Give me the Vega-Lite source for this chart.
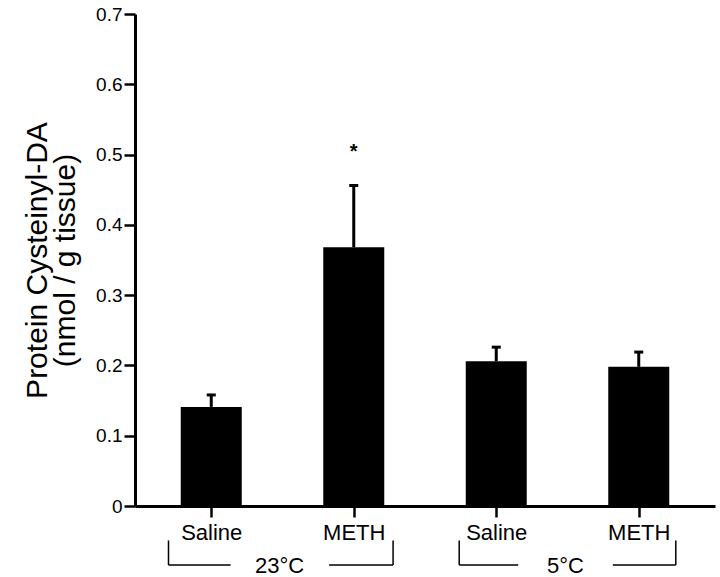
{
  "$schema": "https://vega.github.io/schema/vega-lite/v6.json",
  "width": 580,
  "height": 492,
  "autosize": {"type": "none"},
  "padding": {"left": 135, "top": 14, "right": 5, "bottom": 71},
  "background": "white",
  "config": {
    "font": "Liberation Sans",
    "view": {"stroke": null},
    "axis": {"grid": false, "domainColor": "black", "tickColor": "black", "labelColor": "black", "titleColor": "black"}
  },
  "datasets": {
    "bars": [
      {"pos": 1, "label": "Saline", "temp": "23°C", "mean": 0.141, "upper": 0.158},
      {"pos": 2, "label": "METH", "temp": "23°C", "mean": 0.368, "upper": 0.456},
      {"pos": 3, "label": "Saline", "temp": "5°C", "mean": 0.206, "upper": 0.226},
      {"pos": 4, "label": "METH", "temp": "5°C", "mean": 0.198, "upper": 0.219}
    ],
    "brackets": [
      {"x": 0.70, "x2": 0.70, "y": -0.049, "y2": -0.084},
      {"x": 0.70, "x2": 1.136, "y": -0.084, "y2": -0.084},
      {"x": 1.827, "x2": 2.276, "y": -0.084, "y2": -0.084},
      {"x": 2.276, "x2": 2.276, "y": -0.049, "y2": -0.084},
      {"x": 2.740, "x2": 2.740, "y": -0.049, "y2": -0.084},
      {"x": 2.740, "x2": 3.154, "y": -0.084, "y2": -0.084},
      {"x": 3.818, "x2": 4.260, "y": -0.084, "y2": -0.084},
      {"x": 4.260, "x2": 4.260, "y": -0.049, "y2": -0.084}
    ],
    "groups": [
      {"x": 1.48, "y": -0.0955, "text": "23°C"},
      {"x": 3.486, "y": -0.0955, "text": "5°C"}
    ],
    "marks": [
      {"x": 2, "y": 0.503, "text": "*"}
    ]
  },
  "layer": [
    {
      "data": {"name": "bars"},
      "mark": {"type": "bar", "color": "black", "width": 61},
      "encoding": {
        "x": {
          "field": "pos", "type": "quantitative",
          "scale": {"domain": [0.5, 4.5], "nice": false, "zero": false},
          "axis": {
            "values": [1, 2, 3, 4],
            "labelExpr": "datum.value == 1 || datum.value == 3 ? 'Saline' : 'METH'",
            "title": null,
            "domainWidth": 3,
            "tickWidth": 2.5,
            "tickSize": 11,
            "labelFontSize": 22,
            "labelPadding": 5,
            "labelFont": "Liberation Sans"
          }
        },
        "y": {
          "field": "mean", "type": "quantitative",
          "scale": {"domain": [0, 0.7], "nice": false},
          "axis": {
            "values": [0, 0.1, 0.2, 0.3, 0.4, 0.5, 0.6, 0.7],
            "labelExpr": "datum.value == 0 ? '0' : format(datum.value, '.1f')",
            "title": ["Protein Cysteinyl-DA", "(nmol / g tissue)"],
            "titleFontSize": 30,
            "titleFontWeight": "normal",
            "titleLineHeight": 28,
            "titlePadding": 15,
            "titleFont": "Liberation Sans",
            "domainWidth": 3,
            "tickWidth": 2.5,
            "tickSize": 11,
            "labelFontSize": 19,
            "labelPadding": 2,
            "labelFont": "Liberation Sans"
          }
        }
      }
    },
    {
      "data": {"name": "bars"},
      "mark": {"type": "rule", "color": "black", "strokeWidth": 3},
      "encoding": {
        "x": {"field": "pos", "type": "quantitative"},
        "y": {"field": "mean", "type": "quantitative"},
        "y2": {"field": "upper"}
      }
    },
    {
      "data": {"name": "bars"},
      "mark": {"type": "tick", "color": "black", "orient": "horizontal", "size": 9, "thickness": 3, "opacity": 1},
      "encoding": {
        "x": {"field": "pos", "type": "quantitative"},
        "y": {"field": "upper", "type": "quantitative"}
      }
    },
    {
      "data": {"name": "brackets"},
      "mark": {"type": "rule", "color": "black", "strokeWidth": 1.5},
      "encoding": {
        "x": {"field": "x", "type": "quantitative"},
        "x2": {"field": "x2"},
        "y": {"field": "y", "type": "quantitative"},
        "y2": {"field": "y2"}
      }
    },
    {
      "data": {"name": "groups"},
      "mark": {"type": "text", "fontSize": 22, "align": "center", "baseline": "alphabetic", "color": "black"},
      "encoding": {
        "x": {"field": "x", "type": "quantitative"},
        "y": {"field": "y", "type": "quantitative"},
        "text": {"field": "text"}
      }
    },
    {
      "data": {"name": "marks"},
      "mark": {"type": "text", "fontSize": 20, "fontWeight": "bold", "align": "center", "baseline": "middle", "color": "black"},
      "encoding": {
        "x": {"field": "x", "type": "quantitative"},
        "y": {"field": "y", "type": "quantitative"},
        "text": {"field": "text"}
      }
    }
  ]
}
